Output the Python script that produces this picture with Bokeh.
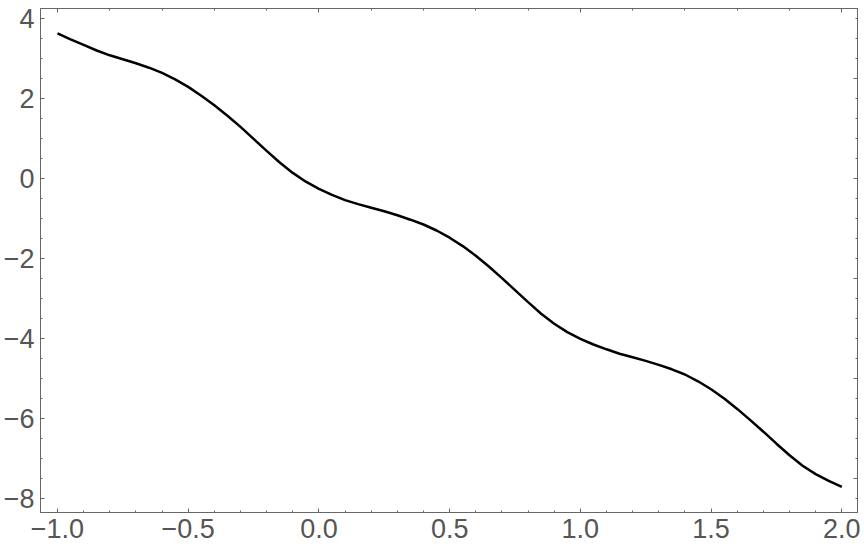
from bokeh.plotting import figure
from bokeh.models import Range1d, LinearAxis, FixedTicker, CustomLabelingPolicy
from bokeh.embed import file_html
from bokeh.resources import INLINE

# curve samples (every 0.05)
x_vals = [-1.0, -0.95, -0.9, -0.85, -0.8, -0.75, -0.7, -0.65, -0.6, -0.55,
          -0.5, -0.45, -0.4, -0.35, -0.3, -0.25, -0.2, -0.15, -0.1, -0.05,
          0.0, 0.05, 0.1, 0.15, 0.2, 0.25, 0.3, 0.35, 0.4, 0.45,
          0.5, 0.55, 0.6, 0.65, 0.7, 0.75, 0.8, 0.85, 0.9, 0.95,
          1.0, 1.05, 1.1, 1.15, 1.2, 1.25, 1.3, 1.35, 1.4, 1.45,
          1.5, 1.55, 1.6, 1.65, 1.7, 1.75, 1.8, 1.85, 1.9, 1.95, 2.0]
y_vals = [3.63, 3.48, 3.34, 3.20, 3.08, 2.98, 2.88, 2.77, 2.64, 2.48,
          2.29, 2.07, 1.83, 1.57, 1.29, 0.99, 0.69, 0.40, 0.14, -0.08,
          -0.26, -0.41, -0.54, -0.64, -0.73, -0.82, -0.92, -1.03, -1.15, -1.30,
          -1.48, -1.69, -1.93, -2.20, -2.49, -2.79, -3.09, -3.38, -3.63, -3.84,
          -4.01, -4.15, -4.27, -4.38, -4.47, -4.56, -4.66, -4.77, -4.90, -5.07,
          -5.27, -5.50, -5.76, -6.04, -6.33, -6.63, -6.92, -7.18, -7.39, -7.56, -7.71]

x_ticks = [-1.0, -0.5, 0.0, 0.5, 1.0, 1.5, 2.0]
x_tick_labels = ["\u22121.0", "\u22120.5", "0.0", "0.5", "1.0", "1.5", "2.0"]
x_minor = [-1.0 + 0.1 * i for i in range(31)]
y_ticks = [-8.0, -6.0, -4.0, -2.0, 0.0, 2.0, 4.0]
y_tick_labels = ["\u22128", "\u22126", "\u22124", "\u22122", "0", "2", "4"]
y_minor = [-8.0 + 0.5 * i for i in range(25)]
top_ticks = [-1.0, 0.0, 1.0, 2.0]
top_minor = [-1.0 + 0.2 * i for i in range(16)]
right_ticks = [-7.5, -5.0, -2.5, 0.0, 2.5]
right_minor = [-8.0 + 0.5 * i for i in range(25)]

GRAY = "#666666"
LABEL = "#555555"
FONT = "Liberation Sans"
FS = "27px"

p = figure(width=864, height=553, output_backend="svg", toolbar_location=None,
           x_range=Range1d(-1.065, 2.06), y_range=Range1d(-8.35, 4.25),
           x_axis_location=None, y_axis_location=None,
           min_border_left=40, min_border_right=7, min_border_top=8, min_border_bottom=41)
p.grid.visible = False
p.outline_line_color = GRAY
p.outline_line_width = 1
p.background_fill_color = "white"
p.border_fill_color = "white"

hide_all = CustomLabelingPolicy(code="""
for (const i of indices) indices.unset(i)
return indices
""")


def style(ax, label_size):
    ax.axis_line_color = GRAY
    ax.major_tick_line_color = GRAY
    ax.minor_tick_line_color = GRAY
    ax.major_tick_in = 4
    ax.major_tick_out = 0
    ax.minor_tick_in = 2
    ax.minor_tick_out = 0
    ax.major_label_text_font = FONT
    ax.major_label_text_font_size = label_size
    ax.major_label_text_color = LABEL


bottom = LinearAxis(ticker=FixedTicker(ticks=x_ticks, minor_ticks=x_minor))
style(bottom, FS)
bottom.major_label_overrides = {float(t): s for t, s in zip(x_ticks, x_tick_labels)}
bottom.major_label_standoff = 6
p.add_layout(bottom, "below")

left = LinearAxis(ticker=FixedTicker(ticks=y_ticks, minor_ticks=y_minor))
style(left, FS)
left.major_label_overrides = {float(t): s for t, s in zip(y_ticks, y_tick_labels)}
left.major_label_standoff = 6
p.add_layout(left, "left")

top = LinearAxis(ticker=FixedTicker(ticks=top_ticks, minor_ticks=top_minor))
style(top, "1px")
top.major_label_standoff = 0
top.major_label_policy = hide_all
p.add_layout(top, "above")

right = LinearAxis(ticker=FixedTicker(ticks=right_ticks, minor_ticks=right_minor))
style(right, "1px")
right.major_label_standoff = 0
right.major_label_policy = hide_all
p.add_layout(right, "right")

p.line(x_vals, y_vals, line_color="black", line_width=2.5)

open("out.html", "w").write(file_html(p, INLINE))
